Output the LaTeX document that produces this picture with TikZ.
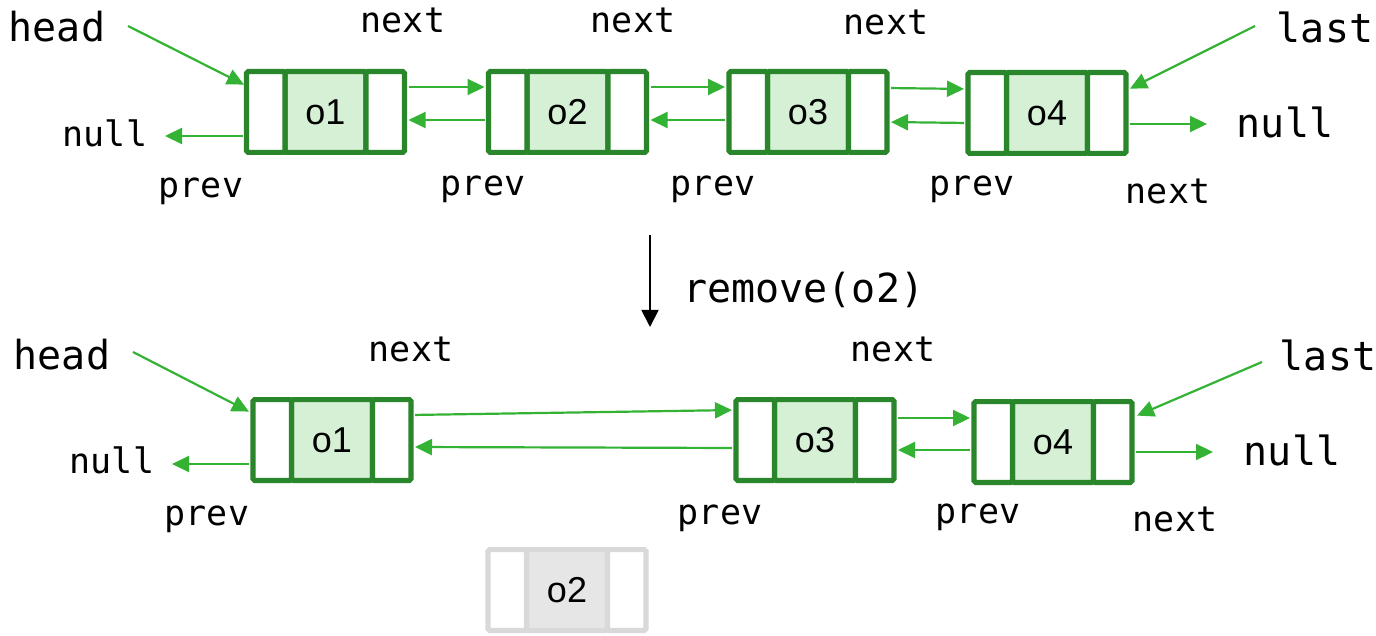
\documentclass[tikz,border=0pt]{standalone}
\usepackage{fontspec}
\setmainfont{Liberation Sans}
\setmonofont{DejaVu Sans Mono}
\usetikzlibrary{arrows.meta}

\definecolor{boxgreen}{RGB}{42,134,42}
\definecolor{linkgreen}{RGB}{51,178,51}
\definecolor{cellgreen}{RGB}{213,240,213}
\definecolor{ghostline}{RGB}{217,217,217}
\definecolor{ghostfill}{RGB}{230,230,230}

\tikzset{
  cell/.style={draw=boxgreen, line width=2.6pt, rounded corners=0.8pt,
    minimum height=40.4pt, inner sep=0pt, outer sep=0pt, fill=white},
  sidecell/.style={cell, minimum width=19.25pt},
  datacell/.style={cell, minimum width=40.5pt, fill=cellgreen,
    font=\fontsize{18}{18}\selectfont},
  ghostside/.style={sidecell, draw=ghostline},
  ghostdata/.style={datacell, draw=ghostline, fill=ghostfill},
  link/.style={draw=linkgreen, line width=1.1pt,
    -{Triangle[length=8.5pt,width=8pt]}, shorten >=2pt, shorten <=2pt},
  pointer/.style={draw=linkgreen, line width=1.1pt,
    -{Triangle[length=8.5pt,width=8pt]}},
  flowarrow/.style={draw=black, line width=0.9pt,
    -{Triangle[length=8.5pt,width=8.5pt]}},
  biglabel/.style={font=\ttfamily\fontsize{20}{20}\selectfont, inner sep=0pt},
  smalllabel/.style={font=\ttfamily\fontsize{17.5}{17.5}\selectfont, inner sep=0pt},
}

% one list node: data cell #2 at #3 with text #4, flanked by prev/next cells
\newcommand{\listitem}[5]{%
  \node[#4] (#1) at #2 {#3};
  \node[#5, anchor=east] (#1l) at (#1.west) {};
  \node[#5, anchor=west] (#1r) at (#1.east) {};
}

\begin{document}
\begin{tikzpicture}[x=0.5pt, y=-0.5pt]
\useasboundingbox (0,0) rectangle (1376,636);

% ---------- list before removal ----------
\listitem{t1}{(325.5,112)}{o1}{datacell}{sidecell}
\listitem{t2}{(567.5,112)}{o2}{datacell}{sidecell}
\listitem{t3}{(808,112)}{o3}{datacell}{sidecell}
\listitem{t4}{(1047,113)}{o4}{datacell}{sidecell}

\node[biglabel]   (thead) at (57,27)   {head};
\node[biglabel]   (tlast) at (1325,27) {last};
\node[smalllabel] (tnullL) at (105,133) {null};
\node[biglabel]   (tnullR) at (1285,122) {null};
\node[smalllabel] (tn1) at (403,20)  {next};
\node[smalllabel] (tn2) at (633,20)  {next};
\node[smalllabel] (tn3) at (886,22)  {next};
\node[smalllabel] (tn4) at (1168,191) {next};
\node[smalllabel] (tp1) at (201,191) {prev};
\node[smalllabel] (tp2) at (483,189) {prev};
\node[smalllabel] (tp3) at (713,189) {prev};
\node[smalllabel] (tp4) at (972,189) {prev};

\coordinate (theadtail) at (128,26);
\coordinate (tlasttail) at (1255,26);
\coordinate (tprevend) at (165,136);
\coordinate (tnextend) at (1207,124);

\draw[link] ([yshift=12.5pt]t1r.east) -- ([yshift=12.5pt]t2l.west);
\draw[link] ([yshift=-4pt]t2l.west) -- ([yshift=-4pt]t1r.east);
\draw[link] ([yshift=12.5pt]t2r.east) -- ([yshift=12.5pt]t3l.west);
\draw[link] ([yshift=-4pt]t3l.west) -- ([yshift=-4pt]t2r.east);
\draw[link] ([yshift=12pt]t3r.east) -- ([yshift=12pt]t4l.west);
\draw[link] ([yshift=-5pt]t4l.west) -- ([yshift=-5pt]t3r.east);
\draw[link, shorten >=0pt] ([yshift=-12pt]t1l.west) -- (tprevend);
\draw[link, shorten >=0pt] ([yshift=-5.5pt]t4r.east) -- (tnextend);
\draw[pointer] (theadtail) -- ([xshift=-1.25pt,yshift=-6.5pt]t1l.north west);
\draw[pointer] (tlasttail) -- ([xshift=2pt,yshift=-8pt]t4r.north east);

% ---------- removal step ----------
\coordinate (rmtop) at (650,235);
\coordinate (rmbot) at (650,327);
\draw[flowarrow] (rmtop) -- (rmbot);
\node[biglabel, anchor=west] (rmlabel) at (683,290) {remove(o2)};

% ---------- list after removal ----------
\listitem{b1}{(332,440)}{o1}{datacell}{sidecell}
\listitem{b3}{(815,440)}{o3}{datacell}{sidecell}
\listitem{b4}{(1053,442)}{o4}{datacell}{sidecell}

\node[biglabel]   (bhead) at (62,355)   {head};
\node[biglabel]   (blast) at (1328,355) {last};
\node[smalllabel] (bnullL) at (112,460) {null};
\node[biglabel]   (bnullR) at (1292,450) {null};
\node[smalllabel] (bn1) at (411,349)  {next};
\node[smalllabel] (bn3) at (893,349)  {next};
\node[smalllabel] (bn4) at (1175,519) {next};
\node[smalllabel] (bp1) at (207,519) {prev};
\node[smalllabel] (bp3) at (720,518) {prev};
\node[smalllabel] (bp4) at (978,517) {prev};

\coordinate (bheadtail) at (133,352);
\coordinate (blasttail) at (1262,362);
\coordinate (bprevend) at (172,464);
\coordinate (bnextend) at (1213,452);

\draw[link] ([yshift=12.5pt]b1r.east) -- ([yshift=15pt]b3l.west);
\draw[link] ([yshift=-4pt]b3l.west) -- ([yshift=-3.5pt]b1r.east);
\draw[link] ([yshift=11pt]b3r.east) -- ([yshift=12pt]b4l.west);
\draw[link] ([yshift=-4pt]b4l.west) -- ([yshift=-5pt]b3r.east);
\draw[link, shorten >=0pt] ([yshift=-12pt]b1l.west) -- (bprevend);
\draw[link, shorten >=0pt] ([yshift=-5pt]b4r.east) -- (bnextend);
\draw[pointer] (bheadtail) -- ([xshift=-2pt,yshift=-6pt]b1l.north west);
\draw[pointer] (blasttail) -- ([xshift=2.5pt,yshift=-7pt]b4r.north east);

% ---------- the removed node ----------
\listitem{g2}{(567,590)}{o2}{ghostdata}{ghostside}
\end{tikzpicture}
\end{document}
